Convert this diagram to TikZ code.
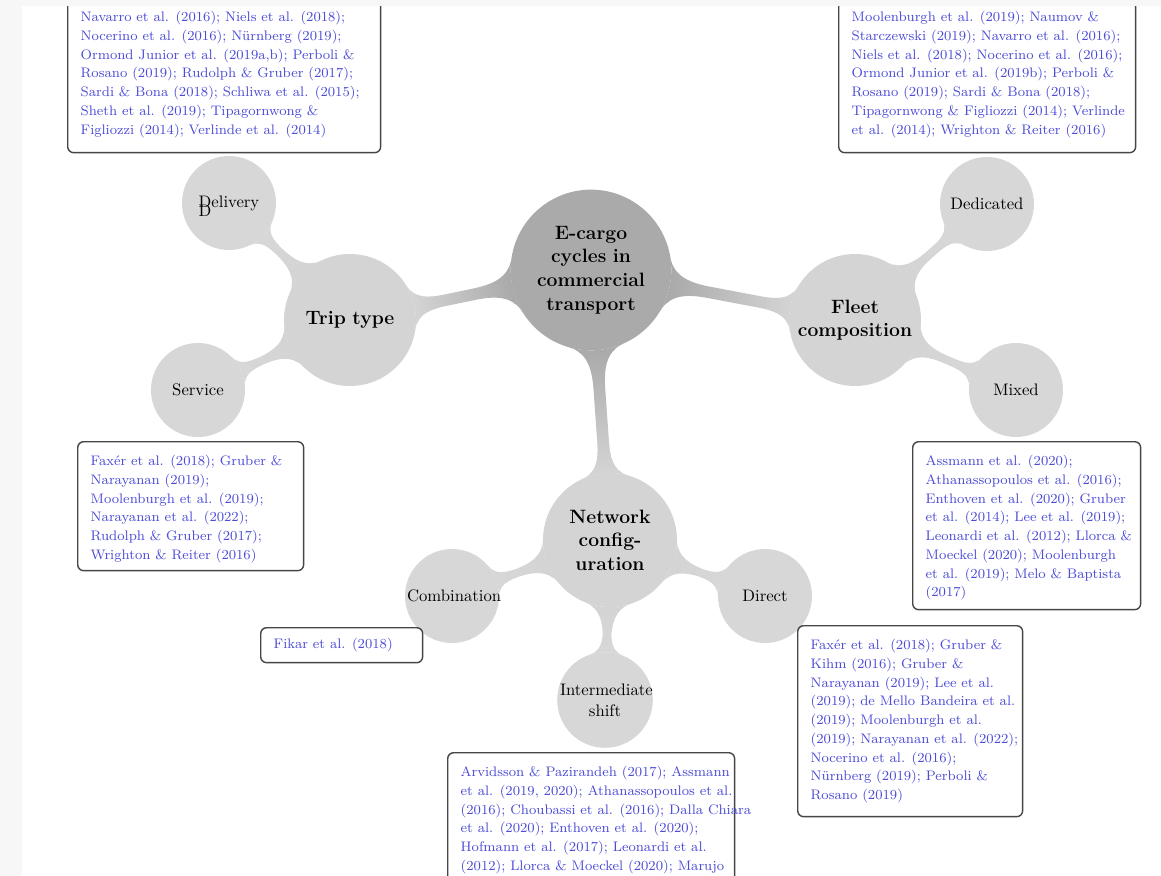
\documentclass[tikz,border=0pt]{standalone}
\usetikzlibrary{mindmap}
\definecolor{rootgray}{RGB}{170,170,170}
\definecolor{lvlone}{RGB}{212,212,212}
\definecolor{lvltwo}{RGB}{215,215,215}
\definecolor{refblue}{RGB}{75,75,215}
\definecolor{boxgray}{RGB}{70,70,70}
\definecolor{stripgray}{RGB}{247,247,247}
\hfuzz=60pt
\vfuzz=60pt
\hbadness=10000
\vbadness=10000
\newcommand{\reflist}[3]{\parbox[c][#2][t]{#1}{\fontsize{7.85}{10.65}\selectfont\color{refblue}\begin{tabular}{@{}l@{}}#3\end{tabular}}}
\begin{document}
\begin{tikzpicture}[x=0.02cm,y=-0.02cm,
  rootnode/.style={concept, concept color=rootgray, draw=none, text=black, minimum size=3.2cm, text width=2.7cm, align=center, inner sep=0pt, font=\fontsize{11}{13.4}\selectfont\bfseries},
  mainnode/.style={concept, concept color=lvlone, draw=none, text=black, minimum size=2.64cm, text width=2.3cm, align=center, inner sep=0pt, font=\fontsize{11}{13.4}\selectfont\bfseries},
  subnode/.style={concept, concept color=lvltwo, draw=none, text=black, minimum size=1.88cm, text width=1.8cm, align=center, inner sep=0pt, font=\fontsize{9.5}{11.8}\selectfont},
  refbox/.style={draw=boxgray, fill=white, line width=0.8pt, rounded corners=3.4pt, inner xsep=0.26cm, inner ysep=0.22cm, anchor=north west},
  linkbar/.style={line width=5.5pt}
]
\useasboundingbox (0,0) rectangle (1161,876);
\clip (0,0) rectangle (1161,876);
\fill[white] (0,0) rectangle (1161,876);

\begin{scope}[mindmap]
% concepts
\node[rootnode] (root) at (591,270) {E-cargo\\cycles in\\commercial\\transport};
\node[mainnode] (trip) at (350,320) {Trip type};
\node[mainnode] (fleet) at (855,320) {Fleet\\composition};
\node[mainnode, minimum size=2.68cm] (net) at (610,540) {Network\\config-\\uration};
\node[subnode] (deliv) at (229,203) {\rlap{\smash{\raisebox{-1.25ex}{D}}}Delivery};
\node[subnode] (serv) at (198,390) {Service};
\node[subnode] (dedic) at (987,204) {Dedicated};
\node[subnode] (mixed) at (1016,390) {Mixed};
\node[subnode] (comb) at (452,596) {Combination};
\node[subnode] (direct) at (765,596) {Direct};
\node[subnode] (inter) at (605,700) {Intermediate\\shift};

% connections
\path[linkbar] (root) to[circle connection bar switch color=from (rootgray) to (lvlone)] (trip);
\path[linkbar] (root) to[circle connection bar switch color=from (rootgray) to (lvlone)] (fleet);
\path[linkbar] (root) to[circle connection bar switch color=from (rootgray) to (lvlone)] (net);
\path[linkbar] (trip) to[circle connection bar switch color=from (lvlone) to (lvltwo)] (deliv);
\path[linkbar] (trip) to[circle connection bar switch color=from (lvlone) to (lvltwo)] (serv);
\path[linkbar] (fleet) to[circle connection bar switch color=from (lvlone) to (lvltwo)] (dedic);
\path[linkbar] (fleet) to[circle connection bar switch color=from (lvlone) to (lvltwo)] (mixed);
\path[linkbar] (net) to[circle connection bar switch color=from (lvlone) to (lvltwo)] (comb);
\path[linkbar] (net) to[circle connection bar switch color=from (lvlone) to (lvltwo)] (direct);
\path[linkbar] (net) to[circle connection bar switch color=from (lvlone) to (lvltwo)] (inter);
\end{scope}

% reference boxes
\node[refbox] (delivrefs) at (67,-3) {\reflist{5.74cm}{2.66cm}{%
Navarro et al. (2016); Niels et al. (2018);\\
Nocerino et al. (2016); Nürnberg (2019);\\
Ormond Junior et al. (2019a,b); Perboli \&\\
Rosano (2019); Rudolph \& Gruber (2017);\\
Sardi \& Bona (2018); Schliwa et al. (2015);\\
Sheth et al. (2019); Tipagornwong \&\\
Figliozzi (2014); Verlinde et al. (2014)}};

\node[refbox] (dedicrefs) at (838,-3) {\reflist{5.42cm}{2.66cm}{%
Moolenburgh et al. (2019); Naumov \&\\
Starczewski (2019); Navarro et al. (2016);\\
Niels et al. (2018); Nocerino et al. (2016);\\
Ormond Junior et al. (2019b); Perboli \&\\
Rosano (2019); Sardi \& Bona (2018);\\
Tipagornwong \& Figliozzi (2014); Verlinde\\
et al. (2014); Wrighton \& Reiter (2016)}};

\node[refbox] (servrefs) at (77,441) {\reflist{4.0cm}{2.14cm}{%
Faxér et al. (2018); Gruber \&\\
Narayanan (2019);\\
Moolenburgh et al. (2019);\\
Narayanan et al. (2022);\\
Rudolph \& Gruber (2017);\\
Wrighton \& Reiter (2016)}};

\node[refbox] (mixedrefs) at (912,441) {\reflist{4.04cm}{2.92cm}{%
Assmann et al. (2020);\\
Athanassopoulos et al. (2016);\\
Enthoven et al. (2020); Gruber\\
et al. (2014); Lee et al. (2019);\\
Leonardi et al. (2012); Llorca \&\\
Moeckel (2020); Moolenburgh\\
et al. (2019); Melo \& Baptista\\
(2017)}};

\node[refbox, inner ysep=0.16cm] (combrefs) at (260,627) {\reflist{2.72cm}{0.38cm}{%
Fikar et al. (2018)}};

\node[refbox] (directrefs) at (797,625) {\reflist{3.98cm}{3.38cm}{%
Faxér et al. (2018); Gruber \&\\
Kihm (2016); Gruber \&\\
Narayanan (2019); Lee et al.\\
(2019); de Mello Bandeira et al.\\
(2019); Moolenburgh et al.\\
(2019); Narayanan et al. (2022);\\
Nocerino et al. (2016);\\
Nürnberg (2019); Perboli \&\\
Rosano (2019)}};

\node[refbox] (interrefs) at (447,752) {\reflist{5.22cm}{2.9cm}{%
Arvidsson \& Pazirandeh (2017); Assmann\\
et al. (2019, 2020); Athanassopoulos et al.\\
(2016); Choubassi et al. (2016); Dalla Chiara\\
et al. (2020); Enthoven et al. (2020);\\
Hofmann et al. (2017); Leonardi et al.\\
(2012); Llorca \& Moeckel (2020); Marujo}};

% screenshot margins
\fill[stripgray] (0,0) rectangle (22,876);
\fill[stripgray] (0,0) rectangle (1161,6);
\end{tikzpicture}
\end{document}
